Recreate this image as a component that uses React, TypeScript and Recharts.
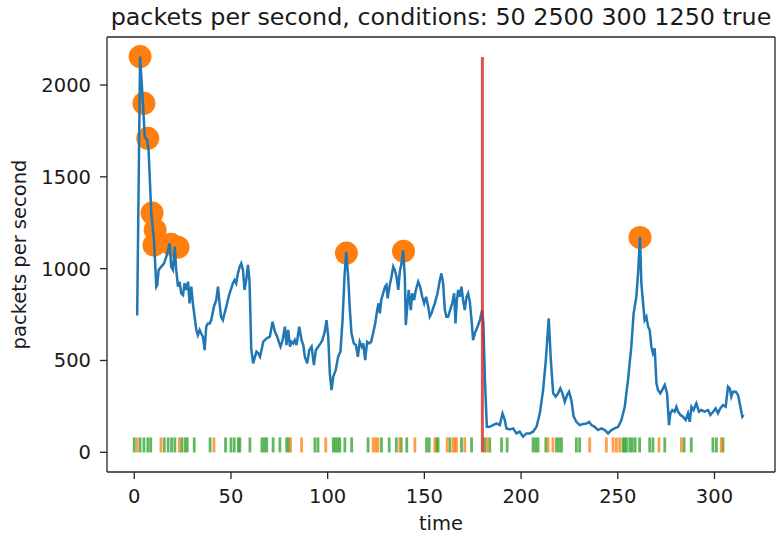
import React from 'react';
import { ComposedChart, Line, Scatter, XAxis, YAxis, ReferenceLine } from 'recharts';

// packets per second over time: [time, packets]
const packetSeries: [number, number][] = [
  [1.5, 745], [3, 2155], [4.5, 1900], [5.4, 1718], [6.7, 1700], [7.4, 1646], [8.8, 1301], [10.2, 1156],
  [11.4, 902], [11.9, 911], [12.6, 993], [14, 1011], [15.4, 1029], [16.6, 1065], [18.3, 1138], [19.1, 1011],
  [20, 993], [20.9, 1120], [21.7, 993], [22.6, 902], [23.4, 929], [24.3, 865], [25.2, 856], [26, 920],
  [26.9, 884], [27.8, 929], [28.6, 811], [29.5, 902], [30.3, 811], [31.2, 738], [32.1, 666], [32.9, 638],
  [33.8, 666], [34.6, 647], [35.5, 629], [36.4, 556], [37.2, 684], [38.1, 702], [39, 702], [39.8, 720],
  [41.2, 793], [42.4, 830], [43.3, 902], [44.1, 811], [44.9, 738], [45.8, 720], [46.7, 757], [47.6, 793],
  [48.4, 829], [49.3, 865], [51, 920], [51.9, 938], [52.7, 920], [53.6, 974], [54.5, 1011], [55.3, 1029],
  [56.2, 993], [57, 884], [57.9, 938], [58.8, 1020], [59.6, 930], [60.5, 560], [61.5, 484], [62.4, 520],
  [63.2, 548], [64.1, 539], [65, 520], [65.8, 557], [66.7, 602], [68.4, 620], [70.1, 630], [71.5, 711],
  [72.7, 657], [73.9, 630], [75, 593], [75.6, 575], [76.7, 611], [77.9, 684], [78.7, 584], [79.6, 666],
  [80.5, 575], [81.3, 602], [82.2, 593], [83, 611], [83.9, 584], [85.3, 684], [86.5, 611], [87.4, 584],
  [88.2, 520], [89.4, 484], [90.5, 557], [91.7, 575], [92.9, 475], [93.9, 557], [95.1, 575], [96.3, 593],
  [97.3, 611], [98.5, 657], [99.4, 720], [100.3, 630], [101.1, 430], [102, 339], [102.9, 412], [104.2, 448],
  [105.4, 520], [106.6, 548], [107.7, 720], [108.7, 956], [109.6, 1092], [110.6, 956], [111.5, 774], [112.3, 648],
  [113.5, 593], [114.6, 584], [115.6, 520], [116.6, 602], [117.7, 575], [118.4, 593], [119.4, 502], [120.4, 602],
  [121.5, 593], [122.5, 602], [123.5, 648], [124.6, 702], [125.6, 774], [126.3, 811], [127, 757], [127.7, 829],
  [128.7, 866], [129.7, 902], [130.4, 911], [131, 838], [132.1, 911], [133, 956], [133.9, 1011], [134.7, 993],
  [135.6, 956], [136.5, 884], [137.3, 984], [138.2, 1029], [139, 1100], [139.9, 956], [140.4, 693], [141.3, 811],
  [141.9, 884], [143, 774], [143.7, 866], [144.7, 829], [145.6, 884], [146.8, 929], [147.8, 902], [148.9, 847],
  [149.9, 811], [150.9, 847], [152, 793], [152.8, 738], [153.7, 757], [154.5, 784], [155.4, 811], [156.8, 866],
  [158, 938], [158.8, 974], [159.7, 920], [160.6, 774], [161.4, 738], [162.3, 738], [163.3, 774], [164.4, 811],
  [165.4, 866], [166.1, 702], [166.8, 829], [167.5, 884], [168.3, 847], [169.2, 902], [170, 829], [170.9, 774],
  [171.8, 847], [172.6, 866], [173.5, 820], [174.4, 720], [175.2, 611], [176.1, 648], [177.5, 684], [178.7, 720],
  [179.9, 774], [180.5, 702], [181.3, 400], [182.3, 139], [183.8, 139], [185.5, 148], [187.3, 157], [189, 148],
  [190.4, 212], [191.6, 176], [192.4, 130], [194.2, 125], [195.9, 130], [197.6, 103], [199.3, 112], [201, 85],
  [202.8, 103], [204.5, 103], [206.2, 112], [208, 139], [209.7, 212], [211.4, 339], [212.8, 502], [214.3, 730],
  [215.4, 502], [216.6, 321], [217.9, 303], [219.1, 321], [220.3, 348], [221.4, 321], [222.6, 275], [223.8, 312],
  [224.8, 330], [226, 285], [227.2, 194], [228.6, 166], [230.3, 148], [232.1, 154], [233.8, 157], [235.2, 166],
  [236.4, 148], [238.1, 139], [239.8, 121], [241.5, 130], [243.3, 121], [245, 103], [246.7, 121], [248.4, 130],
  [250.2, 139], [251.9, 176], [253.6, 248], [255.3, 394], [257, 575], [258.2, 757], [259.6, 847], [260.5, 974],
  [261.5, 1174], [262.2, 920], [263.1, 811], [263.9, 720], [264.8, 738], [265.7, 684], [266.5, 666], [267.4, 575],
  [268.2, 539], [269.1, 566], [270, 376], [270.8, 339], [272, 321], [273.4, 348], [274.3, 367], [275.5, 321],
  [276.5, 148], [277.2, 212], [278.2, 230], [279.4, 221], [280.3, 248], [281.2, 221], [282.4, 203], [283.7, 194],
  [285.1, 176], [286.3, 212], [287.2, 166], [288.1, 248], [289.2, 230], [290.6, 266], [292, 221], [293.2, 230],
  [294.9, 221], [296.7, 230], [297.9, 203], [299.3, 221], [300.6, 239], [301.8, 212], [303, 239], [304.4, 257],
  [305.8, 248], [307, 357], [307.9, 348], [308.7, 303], [309.6, 330], [311, 330], [312.2, 312], [313.4, 248],
  [314.4, 194], [315.1, 203],
];

// detected peaks: [time, packets]
const peakPoints: [number, number][] = [
  [3, 2155], [5, 1900], [7, 1710], [9.2, 1303], [10.2, 1128], [10.8, 1210], [19, 1133], [22.6, 1117],
  [109.7, 1085], [139.2, 1095], [261.5, 1170],
];

// event rug times
const greenEvents = [
  0, 3, 5, 7, 8.5, 15.5, 17.5, 19.3, 21, 24.5, 26.2, 27.4, 31, 39.2, 47.2, 50, 51.7, 53.8, 54.6, 59.8,
  66, 67.3, 68.5, 71.8, 75.3, 78.8, 80, 93.4, 95, 102.9, 104, 105.2, 106.3, 108.9, 112.4, 120.9, 127.8,
  131.8, 135.5, 138, 140.9, 151.1, 152.5, 156.3, 157.1, 163.2, 169.2, 174.4, 181.2, 183.8, 189.9, 192.8,
  206.2, 207.5, 208.8, 212.8, 218.3, 219.6, 220.9, 228.6, 230.3, 252.7, 253.6, 254.5, 256.2, 257.5, 259,
  261.3, 266.5, 268.2, 274.3, 284.3, 288, 299.2, 301, 304.4,
];
const orangeEvents = [
  1.5, 13.8, 23.3, 41.2, 80.8, 86.5, 99, 123.5, 124.8, 126, 137.3, 145.1, 155.4, 161.8, 164.9, 165.8,
  166.6, 170.9, 182.5, 214, 216.5, 235.5, 244.1, 247.6, 249.3, 251, 271.3, 282.9, 303.5,
];
const rugLevel = 40;

const changeTime = 180;
const changeTop = 2153;

const xTicks = [0, 50, 100, 150, 200, 250, 300];
const yTicks = [0, 500, 1000, 1500, 2000];
const xDomain: [number, number] = [-14.1, 331.3];
const yDomain: [number, number] = [-107.3, 2261.4];

const titleText = 'packets per second, conditions: 50 2500 300 1250 true';
const xLabel = 'time';
const yLabel = 'packets per second';

const lineData = packetSeries.map(([t, y]) => ({ t, y }));
const peakData = peakPoints.map(([t, y]) => ({ t, y }));
const greenData = greenEvents.map((t) => ({ t, y: rugLevel }));
const orangeData = orangeEvents.map((t) => ({ t, y: rugLevel }));

const FONT = '"DejaVu Sans", sans-serif';
const TEXT = '#1a1a1a';
const SPINE = '#262626';

const XTick = (props: any) => {
  const { x, y, payload } = props;
  return (
    <text x={x} y={y} dy={20.5} textAnchor="middle" fontFamily={FONT} fontSize={19.5} fill={TEXT}>
      {payload.value}
    </text>
  );
};

const YTick = (props: any) => {
  const { x, y, payload } = props;
  return (
    <text x={x} y={y} dy={7} textAnchor="end" fontFamily={FONT} fontSize={19.5} fill={TEXT}>
      {payload.value}
    </text>
  );
};

const PeakShape = (props: any) => <circle cx={props.cx} cy={props.cy} r={11.5} fill="#ff7f0e" />;
const GreenRug = (props: any) => (
  <rect x={props.cx - 1.4} y={props.cy - 7.5} width={2.8} height={15} fill="#2ca02c" fillOpacity={0.75} />
);
const OrangeRug = (props: any) => (
  <rect x={props.cx - 1.4} y={props.cy - 7.5} width={2.8} height={15} fill="#ff7f0e" fillOpacity={0.75} />
);

export default function App() {
  const extra: any = {};
  return (
    <div style={{ position: 'absolute', left: 0, top: 0, width: 777, height: 538, background: '#fff' }}>
      <ComposedChart width={777} height={538} margin={{ top: 37, right: 2, bottom: 0, left: 0 }}>
        <XAxis
          type="number"
          dataKey="t"
          domain={xDomain}
          ticks={xTicks}
          allowDataOverflow
          height={66}
          tickSize={7}
          tickMargin={3}
          tick={(p: any) => <XTick {...p} />}
          axisLine={{ stroke: SPINE, strokeWidth: 1.3 }}
          tickLine={{ stroke: SPINE, strokeWidth: 1.3 }}
        />
        <YAxis
          type="number"
          dataKey="y"
          domain={yDomain}
          ticks={yTicks}
          allowDataOverflow
          width={107}
          tickSize={7}
          tickMargin={9}
          tick={(p: any) => <YTick {...p} />}
          axisLine={{ stroke: SPINE, strokeWidth: 1.3 }}
          tickLine={{ stroke: SPINE, strokeWidth: 1.3 }}
        />
        <ReferenceLine y={yDomain[1]} stroke={SPINE} strokeWidth={1.3} ifOverflow="visible" />
        <ReferenceLine x={xDomain[1]} stroke={SPINE} strokeWidth={1.3} ifOverflow="visible" />
        <Scatter data={greenData} shape={GreenRug} isAnimationActive={false} zIndex={300} />
        <Scatter data={orangeData} shape={OrangeRug} isAnimationActive={false} zIndex={300} />
        <Scatter data={peakData} shape={PeakShape} isAnimationActive={false} zIndex={350} />
        <Line
          data={lineData}
          dataKey="y"
          type="linear"
          stroke="#1f77b4"
          strokeWidth={2.5}
          dot={false}
          activeDot={false}
          isAnimationActive={false}
          zIndex={900}
        />
        <ReferenceLine
          segment={[{ x: changeTime, y: 0 }, { x: changeTime, y: changeTop }]}
          stroke="#d62728"
          strokeOpacity={0.8}
          strokeWidth={3}
          zIndex={950}
        />
      </ComposedChart>
      <svg width={777} height={538} style={{ position: 'absolute', left: 0, top: 0, pointerEvents: 'none' }}>
        <text x={441} y={25} textAnchor="middle" fontFamily={FONT} fontSize={23.8} fill={TEXT}>
          {titleText}
        </text>
        <text x={441} y={530} textAnchor="middle" fontFamily={FONT} fontSize={19.5} fill={TEXT}>
          {xLabel}
        </text>
        <text
          transform="translate(25.5,254.5) rotate(-90)"
          textAnchor="middle"
          fontFamily={FONT}
          fontSize={19.5}
          fill={TEXT}
        >
          {yLabel}
        </text>
      </svg>
    </div>
  );
}
